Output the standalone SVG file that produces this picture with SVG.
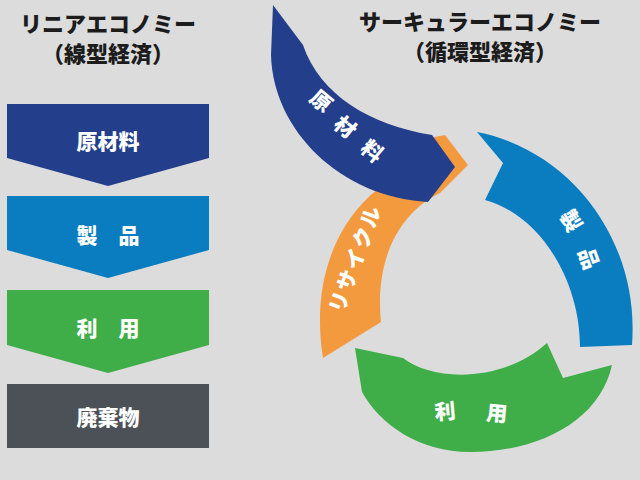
<svg xmlns="http://www.w3.org/2000/svg" width="640" height="480" viewBox="0 0 640 480">
<style>
.t{font-family:"Noto Sans CJK JP","Noto Sans",sans-serif;font-weight:900;fill:#1c1c1c;font-size:22px;text-anchor:middle}
.w{font-family:"Noto Sans CJK JP","Noto Sans",sans-serif;font-weight:900;fill:#fff;font-size:21px;text-anchor:middle;dominant-baseline:central}
</style>
<rect width="640" height="480" fill="#dcdcdd"/>
<text class="t" x="108" y="32">リニアエコノミー</text>
<text class="t" x="108" y="62">（線型経済）</text>
<text class="t" x="480" y="30">サーキュラーエコノミー</text>
<text class="t" x="480" y="60">（循環型経済）</text>
<g id="linear-raw"><path d="M7,104H209V158L108,186L7,158Z" fill="#233e8b"/><text class="w" x="108" y="140">原材料</text></g>
<g id="linear-product"><path d="M7,196H209V250L108,278L7,250Z" fill="#0a7dc0"/><text class="w" x="108" y="234">製　品</text></g>
<g id="linear-use"><path d="M7,290H209V345L108,373L7,345Z" fill="#3fae49"/><text class="w" x="108" y="327">利　用</text></g>
<g id="linear-waste"><rect x="7" y="384" width="202" height="64" fill="#4b5157"/><text class="w" x="108" y="416">廃棄物</text></g>
<g id="connectors"></g>
<g id="circ-recycle"><path d="M323,358C312,290 330,220 390,180L430,138L445,135L468,165L440,193C395,215 375,265 381,322Z" fill="#f39a3f"/>
<text class="w" transform="translate(354,258) rotate(-70)" letter-spacing="2">リサイクル</text></g>
<g id="circ-raw"><path d="M273,5L303,45C320,95 370,125 432,135L455,167L428,202C340,197 273,130 271,55Z" fill="#233e8b"/>
<text class="w" transform="translate(322,100) rotate(40)">原</text><text class="w" transform="translate(346,126) rotate(40)">材</text><text class="w" transform="translate(373,150) rotate(40)">料</text></g>
<g id="circ-product"><path d="M477,132L503,163L485,200C540,215 580,280 580,347L632,345C640,240 570,150 477,132Z" fill="#0a7dc0"/>
<text class="w" transform="translate(572,220) rotate(60)">製</text><text class="w" transform="translate(590,258) rotate(70)">品</text></g>
<g id="circ-use"><path d="M547,343L563,378L612,365C600,420 540,452 470,452C420,452 380,425 362,392L355,348L403,358C430,380 500,385 547,343Z" fill="#3fae49"/>
<text class="w" transform="translate(445,410) rotate(-5)">利</text><text class="w" transform="translate(497,412) rotate(5)">用</text></g>
</svg>
